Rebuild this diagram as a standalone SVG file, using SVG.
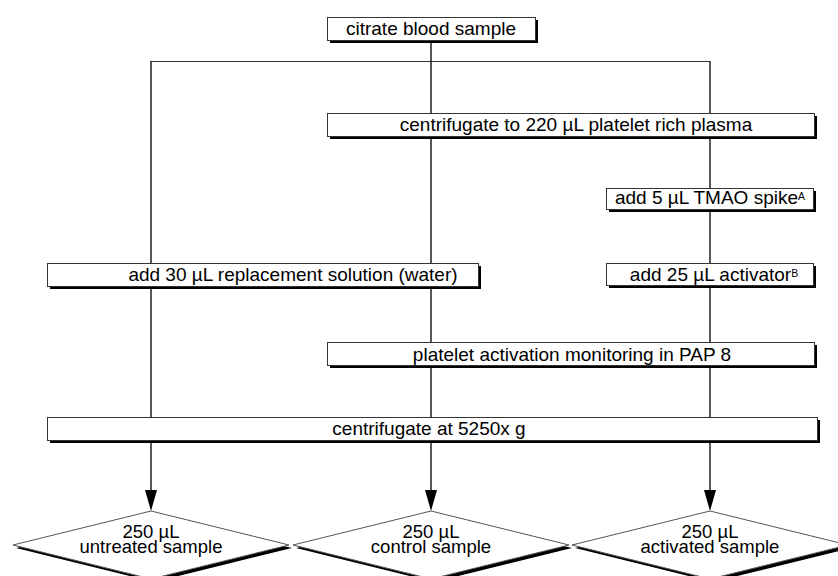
<svg xmlns="http://www.w3.org/2000/svg" width="838" height="576" viewBox="0 0 838 576">
<defs>
<style>
text{font-family:"Liberation Sans",Arial,Helvetica,sans-serif;font-size:19px;fill:#000;text-anchor:middle}
.dt{font-size:18.5px}
.sup{font-size:10.5px}
.box{fill:#fff;stroke:#333;stroke-width:1}
.sh{fill:#000}
.ln{fill:none;stroke:#000;stroke-width:1.3}
.hl{fill:none;stroke:#333;stroke-width:1}
.dm{fill:#fff;stroke:#555;stroke-width:1}
</style>
<marker id="ah" markerUnits="userSpaceOnUse" markerWidth="21" markerHeight="12" viewBox="0 0 21 12" refX="10" refY="6" orient="auto">
<path d="M0,0 L21,6 L0,12 z" fill="#000"/>
</marker>
</defs>
<rect width="838" height="576" fill="#fff"/>
<g id="connectors">
<path class="hl" d="M151 61.5 H710"/>
<path class="ln" d="M431 40 V113 M431 136 V263 M431 286 V342 M431 365 V417"/>
<path class="ln" d="M151 61 V263 M151 286 V417"/>
<path class="ln" d="M710 61 V113 M710 136 V188 M710 209 V263 M710 285 V342 M710 365 V417"/>
<path class="ln" d="M151 443 V500" marker-end="url(#ah)"/>
<path class="ln" d="M431 443 V500" marker-end="url(#ah)"/>
<path class="ln" d="M710 443 V500" marker-end="url(#ah)"/>
</g>
<g id="n1">
<rect class="sh" x="330" y="20" width="208" height="23"/>
<rect class="box" x="327.5" y="17.5" width="208" height="23"/>
<text x="431" y="34.5">citrate blood sample</text>
</g>
<g id="n2">
<rect class="sh" x="330" y="116" width="487" height="23"/>
<rect class="box" x="327.5" y="113.5" width="487" height="23"/>
<text x="576" y="131">centrifugate to 220 µL platelet rich plasma</text>
</g>
<g id="n3">
<rect class="sh" x="609" y="191" width="207" height="21"/>
<rect class="box" x="606.5" y="188.5" width="207" height="21"/>
<text x="710" y="204">add 5 µL TMAO spike<tspan class="sup" dy="-4">A</tspan></text>
</g>
<g id="n4">
<rect class="sh" x="50" y="266" width="431" height="23"/>
<rect class="box" x="47.5" y="263.5" width="431" height="23"/>
<text x="293" y="281">add 30 µL replacement solution (water)</text>
</g>
<g id="n5">
<rect class="sh" x="609" y="266" width="207" height="22"/>
<rect class="box" x="606.5" y="263.5" width="207" height="22"/>
<text x="714" y="281">add 25 µL activator<tspan class="sup" dy="-4">B</tspan></text>
</g>
<g id="n6">
<rect class="sh" x="330" y="345" width="487" height="23"/>
<rect class="box" x="327.5" y="342.5" width="487" height="23"/>
<text x="572" y="360.5">platelet activation monitoring in PAP 8</text>
</g>
<g id="n7">
<rect class="sh" x="50" y="420" width="770" height="23"/>
<rect class="box" x="47.5" y="417.5" width="770" height="23"/>
<text x="429" y="435">centrifugate at 5250x g</text>
</g>
<g id="d1">
<polygon class="sh" points="154,514 292,548 154,582 16,548"/>
<polygon class="dm" points="151,511 289,545 151,579 13,545"/>
<text class="dt"><tspan x="151" y="538">250 µL</tspan><tspan x="151" y="553">untreated sample</tspan></text>
</g>
<g id="d2">
<polygon class="sh" points="434,514 572,548 434,582 296,548"/>
<polygon class="dm" points="431,511 569,545 431,579 293,545"/>
<text class="dt"><tspan x="431" y="538">250 µL</tspan><tspan x="431" y="553">control sample</tspan></text>
</g>
<g id="d3">
<polygon class="sh" points="713,514 851,548 713,582 575,548"/>
<polygon class="dm" points="710,511 848,545 710,579 572,545"/>
<text class="dt"><tspan x="710" y="538">250 µL</tspan><tspan x="710" y="553">activated sample</tspan></text>
</g>
</svg>
